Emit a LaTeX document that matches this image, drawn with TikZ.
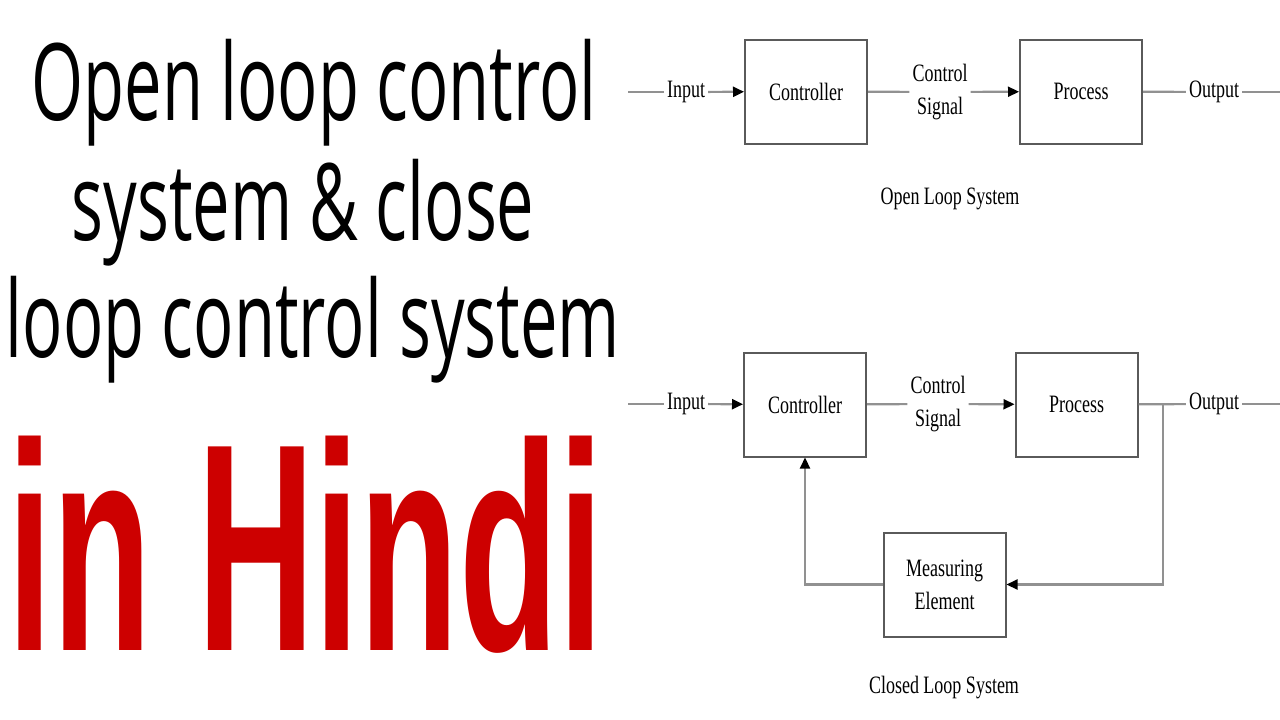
\documentclass[tikz,border=0pt]{standalone}
\usepackage{fontspec}
\setmainfont{Liberation Serif}
\newfontfamily\diagfont[FakeStretch=0.72]{Liberation Serif}
\newfontfamily\titlefont[FakeStretch=0.625]{Open Sans}
\newfontfamily\hindifont[FakeStretch=0.55]{Liberation Sans Bold}
\usetikzlibrary{arrows.meta,positioning}
\definecolor{hindired}{RGB}{205,0,0}
\definecolor{linegray}{RGB}{145,145,145}
\definecolor{boxgray}{RGB}{90,90,90}

\begin{document}
\begin{tikzpicture}[
        x=1pt, y=-1pt,
        bloque/.style={draw=boxgray, line width=2pt, minimum width=122pt, minimum height=104pt, align=center, font=\diagfont\fontsize{25}{33}\selectfont},
        etiqueta/.style={inner sep=3pt, align=center, font=\diagfont\fontsize{25}{33}\selectfont},
        pie/.style={font=\diagfont\fontsize{25}{30}\selectfont},
        linea/.style={draw=linegray, line width=2.2pt},
        flecha/.style={linea, -{Triangle[black, length=11pt, width=10pt]}},
        titulo/.style={anchor=base, inner sep=0pt, font=\titlefont\fontsize{107}{110}\selectfont}
    ]
        \useasboundingbox (0,0) rectangle (1280,720);

        % titulo
        \node[titulo] (t1) at (314,120) {Open loop control};
        \node[titulo] (t2) at (303,240) {system \& close};
        \node[titulo] (t3) at (313,357) {loop control system};
        \node[anchor=base west, inner sep=0pt, text=hindired, font=\hindifont\fontsize{296}{300}\selectfont] (hindi) at (7,650) {in Hindi};

        % lazo abierto
        \coordinate (inA) at (628,92);
        \node[etiqueta] (entA) at (686,92) {Input};
        \node[bloque] (ctrlA) at (806,91.5) {Controller};
        \node[etiqueta] (senA) at (940,92) {Control\\Signal};
        \node[bloque] (procA) at (1081,91.5) {Process};
        \node[etiqueta] (salA) at (1214,92) {Output};
        \coordinate (finA) at (1280,92);
        \node[pie] (pieA) at (950,199) {Open Loop System};

        \draw[linea] (inA) -- (entA);
        \draw[flecha] (entA) -- (ctrlA);
        \draw[linea] (ctrlA) -- (senA);
        \draw[flecha] (senA) -- (procA);
        \draw[linea] (procA) -- (salA);
        \draw[linea] (salA) -- (finA);

        % lazo cerrado
        \coordinate (inB) at (628,404);
        \node[etiqueta] (entB) at (686,404) {Input};
        \node[bloque] (ctrlB) at (805,404.5) {Controller};
        \node[etiqueta] (senB) at (938,404) {Control\\Signal};
        \node[bloque] (procB) at (1076.5,404.5) {Process};
        \node[etiqueta] (salB) at (1214,404) {Output};
        \coordinate (finB) at (1280,404);
        \coordinate (rama) at (1163,404);
        \node[bloque] (medida) at (944.5,584.5) {Measuring\\Element};
        \node[pie] (pieB) at (944,688) {Closed Loop System};

        \draw[linea] (inB) -- (entB);
        \draw[flecha] (entB) -- (ctrlB);
        \draw[linea] (ctrlB) -- (senB);
        \draw[flecha] (senB) -- (procB);
        \draw[linea] (procB) -- (salB);
        \draw[linea] (salB) -- (finB);
        \draw[flecha] (rama) |- (medida);
        \draw[flecha] (medida) -| (ctrlB);
    \end{tikzpicture}
\end{document}
